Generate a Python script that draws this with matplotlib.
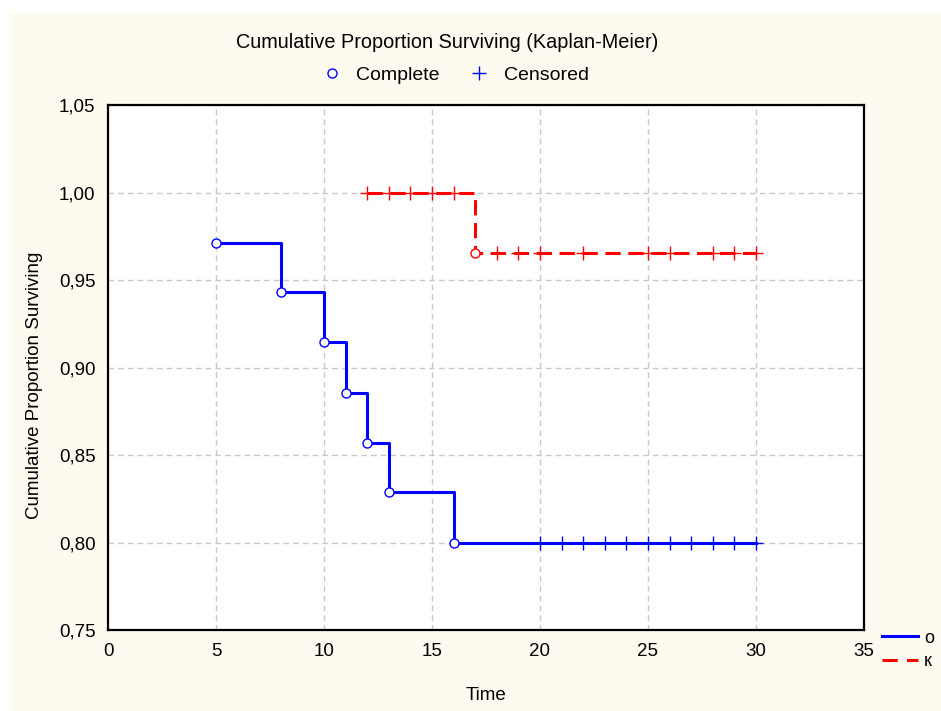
import matplotlib
matplotlib.use("Agg")
import matplotlib.pyplot as plt
from matplotlib.lines import Line2D
from matplotlib.patches import Rectangle
from matplotlib.ticker import FuncFormatter

plt.rcParams['font.family'] = ['Liberation Sans', 'DejaVu Sans']

# group "o" (blue): Kaplan-Meier steps
o_steps_x = [5, 8, 10, 11, 12, 13, 16, 30]
o_steps_y = [0.9714, 0.9429, 0.9143, 0.8857, 0.8571, 0.8286, 0.80, 0.80]
o_complete_x = [5, 8, 10, 11, 12, 13, 16]
o_complete_y = [0.9714, 0.9429, 0.9143, 0.8857, 0.8571, 0.8286, 0.80]
o_censored_x = [20, 21, 22, 23, 24, 25, 26, 27, 28, 29, 30]
o_censored_y = [0.80] * 11

# group "к" (red)
k_steps_x = [12, 17, 30]
k_steps_y = [1.0, 0.9655, 0.9655]
k_complete_x = [17]
k_complete_y = [0.9655]
k_censored_x = [12, 13, 14, 15, 16, 18, 19, 20, 22, 25, 26, 28, 29, 30]
k_censored_y = [1.0, 1.0, 1.0, 1.0, 1.0] + [0.9655] * 9

xticks = [0, 5, 10, 15, 20, 25, 30, 35]
yticks = [0.75, 0.80, 0.85, 0.90, 0.95, 1.00, 1.05]

cream = '#fdfaf0'
fig = plt.figure(figsize=(9.41, 7.11), dpi=100)
fig.patch.set_facecolor('white')
fig.patches.append(Rectangle((9/941, 0), 1, 699/711, transform=fig.transFigure,
                             facecolor=cream, edgecolor='none', zorder=-10))

ax = fig.add_axes([108/941, 1-630/711, 756/941, 525/711])
ax.set_facecolor('white')

ax.plot(o_steps_x, o_steps_y, drawstyle='steps-post', color='#0000ff', lw=2.2, zorder=3)
ax.plot(k_steps_x, k_steps_y, drawstyle='steps-post', color='#ff0000', lw=2.2,
        ls=(0, (5, 2.5)), zorder=3)

ax.plot(o_complete_x, o_complete_y, 'o', ms=6.5, mfc='white', mec='#0000ff', mew=1, zorder=4)
ax.plot(k_complete_x, k_complete_y, 'o', ms=6.5, mfc='white', mec='#ff0000', mew=1, zorder=4)
ax.plot(o_censored_x, o_censored_y, '+', ms=9.5, mec='#0000ff', mew=1, zorder=4)
ax.plot(k_censored_x, k_censored_y, '+', ms=9.5, mec='#ff0000', mew=1, zorder=4)

ax.set_xlim(0, 35)
ax.set_ylim(0.75, 1.05)
ax.set_xticks(xticks)
ax.set_yticks(yticks)
ax.yaxis.set_major_formatter(FuncFormatter(lambda v, p: f"{v:.2f}".replace('.', ',')))
ax.tick_params(length=0, labelsize=13.5, pad=9)
ax.grid(True, color='#c8c8c8', ls=(0, (4, 3)), lw=1)
for s in ax.spines.values():
    s.set_linewidth(1.6)
    s.set_color('black')

ax.set_xlabel('Time', fontsize=13.5, labelpad=20)
ax.set_ylabel('Cumulative Proportion Surviving', fontsize=13.5)
ax.yaxis.set_label_coords(-0.086, 0.467)

fig.text(447/941, 1-43/711, 'Cumulative Proportion Surviving (Kaplan-Meier)',
         ha='center', va='center', fontsize=14.3)

top_handles = [
    Line2D([], [], ls='none', marker='o', ms=6.5, mfc='white', mec='#0000ff', mew=1),
    Line2D([], [], ls='none', marker='+', ms=10, mec='#0000ff', mew=1),
]
fig.legend(top_handles, ['Complete', 'Censored'], loc='center', ncol=2,
           bbox_to_anchor=(453/941, 1-75/711), frameon=False, fontsize=14,
           handletextpad=0.5, columnspacing=1.3, handlelength=1.5)

side_handles = [
    Line2D([], [], color='#0000ff', lw=2.2),
    Line2D([], [], color='#ff0000', lw=2.2, ls=(0, (5, 3))),
]
fig.legend(side_handles, ['o', 'к'], loc='upper left',
           bbox_to_anchor=(880/941, 1-628/711), frameon=False, fontsize=13,
           handlelength=2.0, handletextpad=0.35, labelspacing=0.35, borderpad=0.1,
           borderaxespad=0)

fig.savefig('out.png', dpi=100, facecolor=fig.get_facecolor())
